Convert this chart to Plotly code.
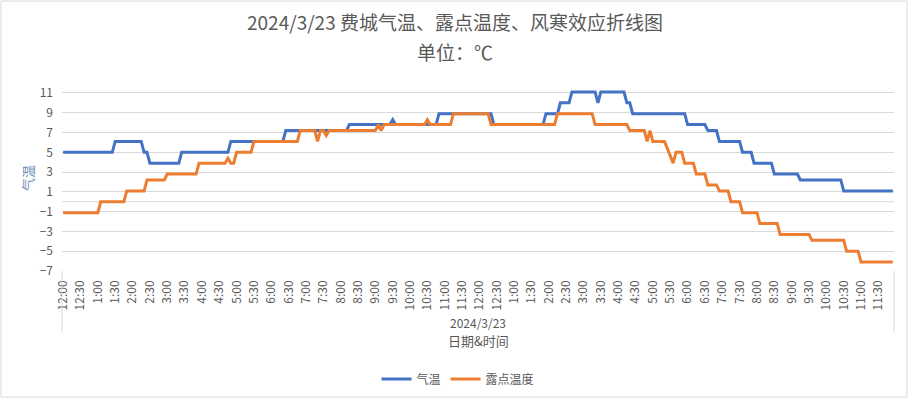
import plotly.graph_objects as go

# 5-minute observation slots over the day (category labels)
times = []
for h in range(24):
    for m in range(0, 60, 5):
        times.append(f"{h:02d}:{m:02d}")

tick_labels = ["12:00", "12:30", "1:00", "1:30", "2:00", "2:30", "3:00", "3:30",
               "4:00", "4:30", "5:00", "5:30", "6:00", "6:30", "7:00", "7:30",
               "8:00", "8:30", "9:00", "9:30", "10:00", "10:30", "11:00", "11:30",
               "12:00", "12:30", "1:00", "1:30", "2:00", "2:30", "3:00", "3:30",
               "4:00", "4:30", "5:00", "5:30", "6:00", "6:30", "7:00", "7:30",
               "8:00", "8:30", "9:00", "9:30", "10:00", "10:30", "11:00", "11:30"]

temperature = [
    5.0, 5.0, 5.0, 5.0, 5.0, 5.0, 5.0, 5.0, 5.0, 5.0, 5.0, 5.0,
    5.0, 5.0, 5.0, 5.0, 5.0, 5.0, 6.1, 6.1, 6.1, 6.1, 6.1, 6.1,
    6.1, 6.1, 6.1, 6.1, 5.0, 5.0, 3.9, 3.9, 3.9, 3.9, 3.9, 3.9,
    3.9, 3.9, 3.9, 3.9, 3.9, 5.0, 5.0, 5.0, 5.0, 5.0, 5.0, 5.0,
    5.0, 5.0, 5.0, 5.0, 5.0, 5.0, 5.0, 5.0, 5.0, 5.0, 6.1, 6.1,
    6.1, 6.1, 6.1, 6.1, 6.1, 6.1, 6.1, 6.1, 6.1, 6.1, 6.1, 6.1,
    6.1, 6.1, 6.1, 6.1, 6.1, 7.2, 7.2, 7.2, 7.2, 7.2, 7.2, 7.2,
    7.2, 7.2, 7.2, 7.2, 7.2, 7.2, 7.2, 7.2, 7.2, 7.2, 7.2, 7.2,
    7.2, 7.2, 7.2, 7.8, 7.8, 7.8, 7.8, 7.8, 7.8, 7.8, 7.8, 7.8,
    7.8, 7.8, 7.8, 7.8, 7.8, 7.8, 8.3, 7.8, 7.8, 7.8, 7.8, 7.8,
    7.8, 7.8, 7.8, 7.8, 7.8, 7.8, 7.8, 7.8, 7.8, 7.8, 8.9, 8.9,
    8.9, 8.9, 8.9, 8.9, 8.9, 8.9, 8.9, 8.9, 8.9, 8.9, 8.9, 8.9,
    8.9, 8.9, 8.9, 8.9, 8.9, 7.8, 7.8, 7.8, 7.8, 7.8, 7.8, 7.8,
    7.8, 7.8, 7.8, 7.8, 7.8, 7.8, 7.8, 7.8, 7.8, 7.8, 7.8, 8.9,
    8.9, 8.9, 8.9, 8.9, 10.0, 10.0, 10.0, 10.0, 11.1, 11.1, 11.1, 11.1,
    11.1, 11.1, 11.1, 11.1, 11.1, 10.0, 11.1, 11.1, 11.1, 11.1, 11.1, 11.1,
    11.1, 11.1, 11.1, 10.0, 10.0, 8.9, 8.9, 8.9, 8.9, 8.9, 8.9, 8.9,
    8.9, 8.9, 8.9, 8.9, 8.9, 8.9, 8.9, 8.9, 8.9, 8.9, 8.9, 8.9,
    7.8, 7.8, 7.8, 7.8, 7.8, 7.8, 7.8, 7.2, 7.2, 7.2, 7.2, 6.1,
    6.1, 6.1, 6.1, 6.1, 6.1, 6.1, 6.1, 5.0, 5.0, 5.0, 5.0, 3.9,
    3.9, 3.9, 3.9, 3.9, 3.9, 3.9, 2.8, 2.8, 2.8, 2.8, 2.8, 2.8,
    2.8, 2.8, 2.8, 2.2, 2.2, 2.2, 2.2, 2.2, 2.2, 2.2, 2.2, 2.2,
    2.2, 2.2, 2.2, 2.2, 2.2, 2.2, 1.1, 1.1, 1.1, 1.1, 1.1, 1.1,
    1.1, 1.1, 1.1, 1.1, 1.1, 1.1, 1.1, 1.1, 1.1, 1.1, 1.1, 1.1,
]

dew_point = [
    -1.1, -1.1, -1.1, -1.1, -1.1, -1.1, -1.1, -1.1, -1.1, -1.1, -1.1, -1.1,
    -1.1, 0.0, 0.0, 0.0, 0.0, 0.0, 0.0, 0.0, 0.0, 0.0, 1.1, 1.1,
    1.1, 1.1, 1.1, 1.1, 1.1, 2.2, 2.2, 2.2, 2.2, 2.2, 2.2, 2.2,
    2.8, 2.8, 2.8, 2.8, 2.8, 2.8, 2.8, 2.8, 2.8, 2.8, 2.8, 3.9,
    3.9, 3.9, 3.9, 3.9, 3.9, 3.9, 3.9, 3.9, 3.9, 4.4, 3.9, 3.9,
    5.0, 5.0, 5.0, 5.0, 5.0, 5.0, 6.1, 6.1, 6.1, 6.1, 6.1, 6.1,
    6.1, 6.1, 6.1, 6.1, 6.1, 6.1, 6.1, 6.1, 6.1, 6.1, 7.2, 7.2,
    7.2, 7.2, 7.2, 7.2, 6.1, 7.2, 7.2, 6.7, 7.2, 7.2, 7.2, 7.2,
    7.2, 7.2, 7.2, 7.2, 7.2, 7.2, 7.2, 7.2, 7.2, 7.2, 7.2, 7.2,
    7.2, 7.8, 7.2, 7.8, 7.8, 7.8, 7.8, 7.8, 7.8, 7.8, 7.8, 7.8,
    7.8, 7.8, 7.8, 7.8, 7.8, 7.8, 8.3, 7.8, 7.8, 7.8, 7.8, 7.8,
    7.8, 7.8, 7.8, 8.9, 8.9, 8.9, 8.9, 8.9, 8.9, 8.9, 8.9, 8.9,
    8.9, 8.9, 8.9, 8.9, 7.8, 7.8, 7.8, 7.8, 7.8, 7.8, 7.8, 7.8,
    7.8, 7.8, 7.8, 7.8, 7.8, 7.8, 7.8, 7.8, 7.8, 7.8, 7.8, 7.8,
    7.8, 7.8, 7.8, 8.9, 8.9, 8.9, 8.9, 8.9, 8.9, 8.9, 8.9, 8.9,
    8.9, 8.9, 8.9, 8.9, 7.8, 7.8, 7.8, 7.8, 7.8, 7.8, 7.8, 7.8,
    7.8, 7.8, 7.8, 7.8, 7.2, 7.2, 7.2, 7.2, 7.2, 7.2, 6.1, 7.2,
    6.1, 6.1, 6.1, 6.1, 6.1, 5.4, 4.6, 3.9, 5.0, 5.0, 5.0, 3.9,
    3.9, 3.9, 3.9, 2.8, 2.8, 2.8, 2.8, 1.7, 1.7, 1.7, 1.7, 1.1,
    1.1, 1.1, 1.1, 0.0, 0.0, 0.0, 0.0, -1.1, -1.1, -1.1, -1.1, -1.1,
    -1.1, -2.2, -2.2, -2.2, -2.2, -2.2, -2.2, -2.2, -3.3, -3.3, -3.3, -3.3,
    -3.3, -3.3, -3.3, -3.3, -3.3, -3.3, -3.3, -3.9, -3.9, -3.9, -3.9, -3.9,
    -3.9, -3.9, -3.9, -3.9, -3.9, -3.9, -3.9, -5.0, -5.0, -5.0, -5.0, -5.0,
    -6.1, -6.1, -6.1, -6.1, -6.1, -6.1, -6.1, -6.1, -6.1, -6.1, -6.1, -6.1,
]

y_ticks = [-7, -5, -3, -1, 1, 3, 5, 7, 9, 11]

FONT = "Microsoft YaHei, Noto Sans CJK SC, sans-serif"
GREY = "#595959"
GRID = "#d9d9d9"

fig = go.Figure()
fig.add_trace(go.Scatter(x=times, y=temperature, mode="lines", name="气温",
                         line=dict(color="#4472C4", width=3)))
fig.add_trace(go.Scatter(x=times, y=dew_point, mode="lines", name="露点温度",
                         line=dict(color="#ED7D31", width=3)))

fig.update_layout(
    width=910, height=399,
    margin=dict(l=62, r=16, t=88, b=128, autoexpand=False),
    plot_bgcolor="white", paper_bgcolor="white",
    font=dict(family=FONT, color=GREY, size=12),
    legend=dict(orientation="h", x=0.476, xanchor="center", y=-0.59, yanchor="middle",
                font=dict(size=12, color=GREY), bgcolor="rgba(0,0,0,0)"),
    xaxis=dict(type="category", categoryorder="array", categoryarray=times,
               range=[-0.4, 287.4], tickvals=times[::6], ticktext=tick_labels,
               tickangle=-90, showgrid=False, zeroline=False, showline=False,
               ticks="", ticklabelstandoff=6, tickfont=dict(size=12, color=GREY)),
    yaxis=dict(range=[-7, 11.5], tickvals=y_ticks, showgrid=True, gridcolor=GRID,
               gridwidth=1, zeroline=False, showline=False, ticks="",
               ticklabelstandoff=8, tickfont=dict(size=12, color=GREY)),
)

# horizontal axis line at 0
fig.add_shape(type="line", xref="paper", yref="y", x0=0, x1=1, y0=0, y1=0,
              line=dict(color=GRID, width=1), layer="below")
# multi-level category box sides
for xv in (0, 1):
    fig.add_shape(type="line", xref="paper", yref="paper", x0=xv, x1=xv, y0=0, y1=-0.333,
                  line=dict(color=GRID, width=1))
# chart border
fig.add_shape(type="rect", xref="paper", yref="paper", x0=-0.0733, x1=1.0156,
              y0=-0.689, y1=1.475, line=dict(color=GRID, width=1))

fig.add_annotation(text="2024/3/23 费城气温、露点温度、风寒效应折线图", xref="paper", yref="paper",
                   x=0.4724, y=1.366, showarrow=False, xanchor="center", yanchor="middle",
                   font=dict(size=19, color=GREY, family=FONT))
fig.add_annotation(text="单位：℃", xref="paper", yref="paper",
                   x=0.4724, y=1.197, showarrow=False, xanchor="center", yanchor="middle",
                   font=dict(size=19, color=GREY, family=FONT))
fig.add_annotation(text="2024/3/23", xref="paper", yref="paper",
                   x=0.5, y=-0.284, showarrow=False, xanchor="center", yanchor="middle",
                   font=dict(size=12, color=GREY, family=FONT))
fig.add_annotation(text="日期&时间", xref="paper", yref="paper",
                   x=0.5, y=-0.3825, showarrow=False, xanchor="center", yanchor="middle",
                   font=dict(size=13, color=GREY, family=FONT))
fig.add_annotation(text="气温", xref="paper", yref="paper", textangle=-90,
                   x=-0.0421, y=0.508, showarrow=False, xanchor="center", yanchor="middle",
                   font=dict(size=13, color="#6f8db5", family=FONT))

fig.write_html("out.html", config={"displayModeBar": False},
               post_script="document.body.style.margin='0';")
